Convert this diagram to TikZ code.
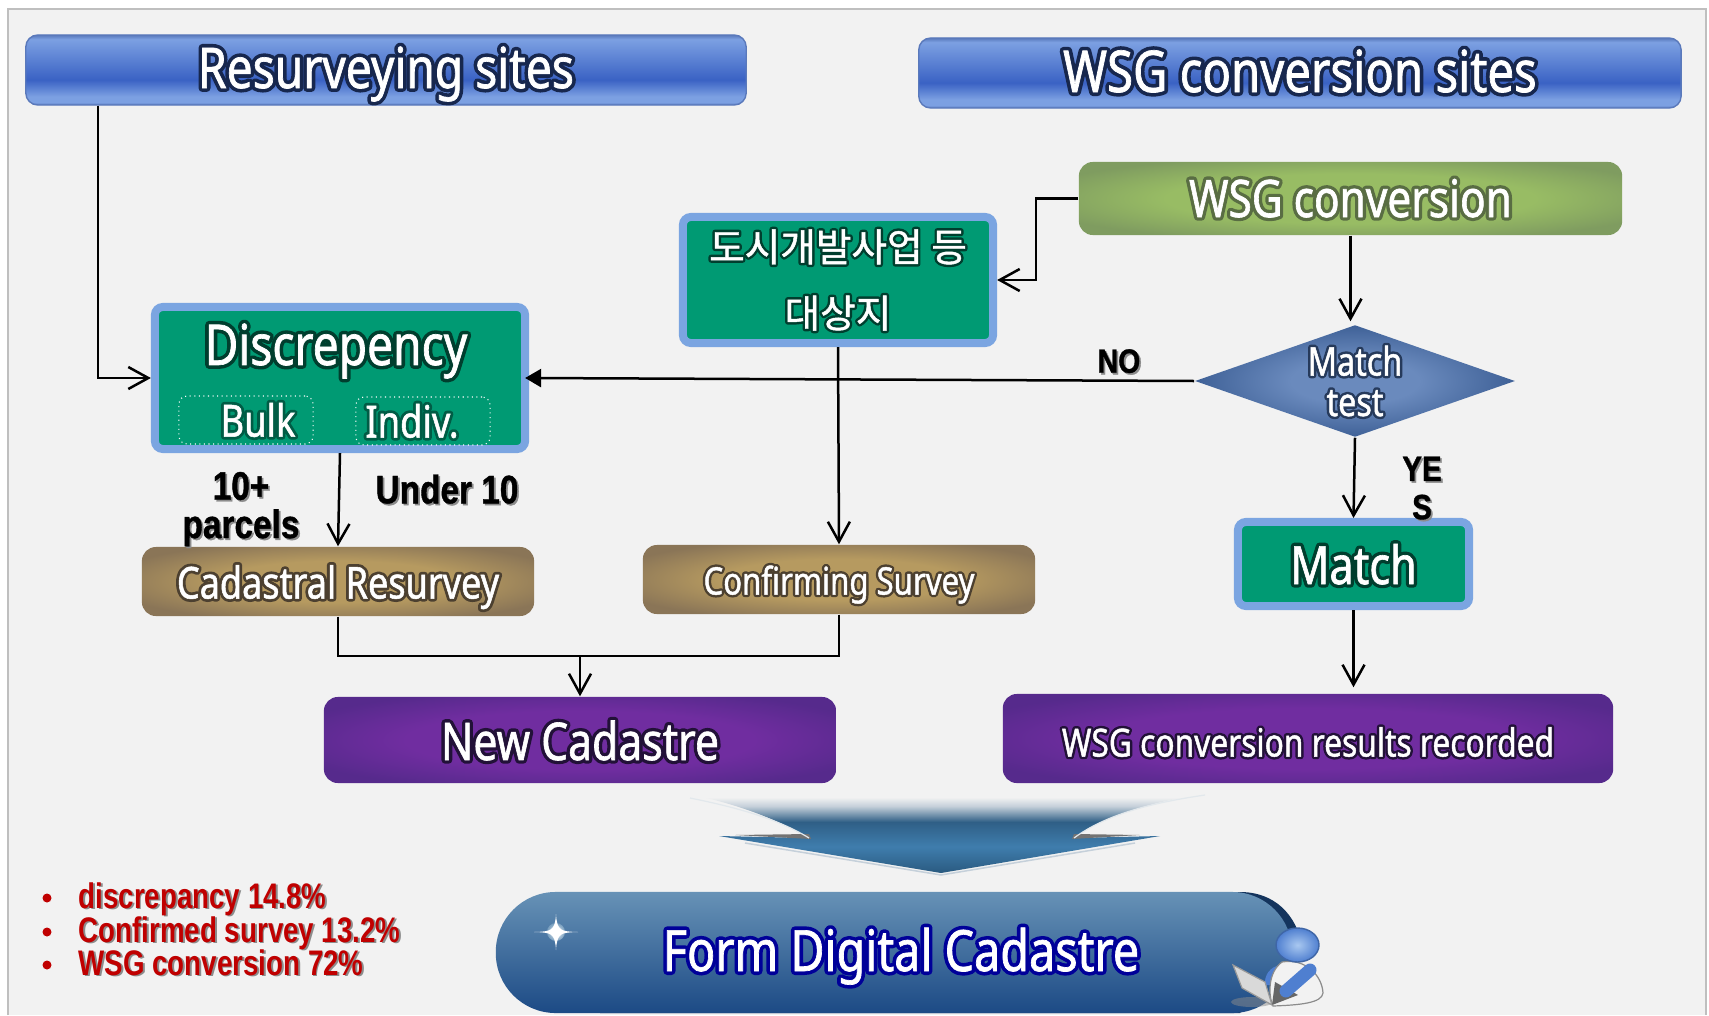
\documentclass[tikz,border=0pt]{standalone}
\usepackage{fontspec}
\usepackage{xcolor}
\usetikzlibrary{arrows.meta,shapes.geometric,positioning,calc}
\setmainfont{Noto Sans}
\newfontfamily\latfont[FakeStretch=0.82,FakeBold=1.2]{Noto Sans}
\newfontfamily\lathalo[FakeStretch=0.82,FakeBold=14]{Noto Sans}
\newfontfamily\krfont[FakeBold=1.2]{Noto Sans CJK KR}
\newfontfamily\krhalo[FakeBold=14]{Noto Sans CJK KR}
\newfontfamily\headfont[FakeStretch=0.84,FakeBold=1]{Liberation Sans Bold}
\newfontfamily\redfont[FakeStretch=0.78]{Liberation Sans Bold}
\definecolor{pagebg}{HTML}{F2F2F2}
\definecolor{frameline}{HTML}{BFBFBF}
\definecolor{boxgreen}{HTML}{009A73}
\definecolor{boxedge}{HTML}{7BA5E1}
\definecolor{redtxt}{HTML}{C00000}
\definecolor{HeadA}{HTML}{5A7CC0}
\definecolor{HeadB}{HTML}{7CA0E2}
\definecolor{HeadC}{HTML}{3A62C4}
\definecolor{HeadD}{HTML}{5A79BB}
\definecolor{ArrA}{HTML}{2A5A80}
\definecolor{ArrB}{HTML}{3F7DAD}
\definecolor{ArrC}{HTML}{2F5F86}
\definecolor{ArrD}{HTML}{C5D0DA}
\definecolor{GrnA}{HTML}{98BC64}
\definecolor{GrnB}{HTML}{7F9C60}
\definecolor{BrnA}{HTML}{B69A60}
\definecolor{BrnB}{HTML}{8A7557}
\definecolor{PurA}{HTML}{702DA0}
\definecolor{PurB}{HTML}{562A8C}
\definecolor{DiaA}{HTML}{6A8ABD}
\definecolor{DiaB}{HTML}{3F6197}
\definecolor{FrmA}{HTML}{6792B6}
\definecolor{FrmB}{HTML}{1C4A85}
\definecolor{HeadIn}{HTML}{A9C8F0}
\definecolor{HeadOut}{HTML}{4F7FD0}
\newcommand{\glowtxt}[2]{\leavevmode\special{pdf:code 1 j}\rlap{\color{#1}\lathalo #2}\special{pdf:code 0 j}#2}
\newcommand{\krglow}[2]{\leavevmode\special{pdf:code 1 j}\rlap{\color{#1}\krhalo #2}\special{pdf:code 0 j}#2}
\newcommand{\shadowtxt}[1]{\leavevmode\rlap{\kern.5pt\raisebox{-.5pt}{\color{black!45}#1}}#1}
\pgfdeclareverticalshading{headshade}{100bp}{color(0bp)=(HeadA);color(25bp)=(HeadA);
  color(27bp)=(HeadB);color(31bp)=(HeadB);color(43bp)=(HeadC);color(72bp)=(HeadB);color(75bp)=(HeadD);color(100bp)=(HeadD)}
\pgfdeclareverticalshading{arrowshade}{100bp}{color(0bp)=(ArrA);color(25bp)=(ArrA);color(40bp)=(ArrB);color(54bp)=(ArrC);
  color(63bp)=(ArrD);color(68bp)=(pagebg);color(100bp)=(pagebg)}
\pgfdeclareradialshading{greenshade}{\pgfpoint{0bp}{0bp}}{color(0bp)=(GrnA);color(17bp)=(GrnA);color(30bp)=(GrnB);color(50bp)=(GrnB)}
\pgfdeclareradialshading{brownshade}{\pgfpoint{0bp}{0bp}}{color(0bp)=(BrnA);color(15bp)=(BrnA);color(30bp)=(BrnB);color(50bp)=(BrnB)}
\pgfdeclareradialshading{purpleshade}{\pgfpoint{0bp}{0bp}}{color(0bp)=(PurA);color(17bp)=(PurA);color(30bp)=(PurB);color(50bp)=(PurB)}
\pgfdeclareradialshading{diamondshade}{\pgfpoint{0bp}{0bp}}{color(0bp)=(DiaA);color(10bp)=(DiaA);color(25bp)=(DiaB);color(50bp)=(DiaB)}

\begin{document}
\begin{tikzpicture}[x=0.01cm,y=-0.01cm,
    drop/.style={text height=#1*0.02cm, text depth=0pt},
    header/.style={rectangle, shading=headshade, rounded corners=0.12cm, minimum height=0.70cm, text=white, inner sep=0pt, font=\latfont\fontsize{16}{19}\selectfont},
    greenbox/.style={rectangle, draw=boxedge, fill=boxgreen, line width=0.08cm, rounded corners=0.08cm, text=white, inner sep=0pt},
    colorbox/.style={rectangle, rounded corners=0.14cm, text=white, inner sep=0pt, font=\latfont\fontsize{12.5}{16}\selectfont},
    subbox/.style={rectangle, draw=white, densely dotted, line width=0.3pt, rounded corners=0.08cm, minimum width=1.34cm, minimum height=0.48cm, inner sep=0pt, text=white, font=\latfont\fontsize{12.6}{15}\selectfont},
    testbox/.style={diamond, shading=diamondshade, aspect=2.86, minimum width=3.2cm, minimum height=1.12cm, inner sep=0pt, align=center, text=white, font=\latfont\fontsize{11.2}{11.5}\selectfont},
    blacktxt/.style={inner sep=0pt, align=center, font=\headfont\fontsize{11.3}{10.9}\selectfont},
    redlist/.style={inner sep=0pt, anchor=base west, text=redtxt, font=\redfont\fontsize{10.1}{12}\selectfont},
    arrow/.style={-{Straight Barb[length=0.2cm,width=0.22cm]}, line width=0.025cm},
    line/.style={line width=0.025cm}
]
    \useasboundingbox (0,0) rectangle (1709,1015);
    \fill[white] (0,0) rectangle (1709,1015);
    \fill[pagebg] (8,9) rectangle (1706,1015);
    \draw[frameline, line width=0.02cm] (8,1015) -- (8,9) -- (1706,9) -- (1706,1015);

    % headers
    \node[header, draw=HeadD, minimum width=7.20cm, drop=18] (resurvey) at (386,70) {\glowtxt{HeadC!40!black}{Resurveying sites}};
    \node[header, draw=HeadD, minimum width=7.62cm, drop=19, right=1.71cm of resurvey, yshift=-0.03cm, font=\latfont\fontsize{16.4}{19}\selectfont] (wsgsites) {\glowtxt{HeadC!40!black}{WSG conversion sites}};

    % right column
    \node[colorbox, shading=greenshade, minimum width=5.43cm, minimum height=0.73cm, drop=18.5, font=\latfont\fontsize{14.7}{18}\selectfont] (wsgconv) at (1350.5,198.5) {\glowtxt{GrnB!70!black}{WSG conversion}};
    \node[testbox] (matchtest) at (1355,381) {\glowtxt{DiaB!60!black}{Match}\\\glowtxt{DiaB!60!black}{test}};
    \node[greenbox, minimum width=2.31cm, minimum height=0.84cm, drop=20, font=\latfont\fontsize{15}{18}\selectfont] (match) at (1353.5,564) {\glowtxt{boxgreen!40!black}{Match}};
    \node[colorbox, shading=purpleshade, minimum width=6.10cm, minimum height=0.89cm, drop=18, font=\latfont\fontsize{11}{14}\selectfont] (results) at (1308,738.5) {\glowtxt{PurB!40!black}{WSG conversion results recorded}};

    % middle column
    \node[greenbox, align=center, minimum width=3.10cm, minimum height=1.26cm, font=\krfont\fontsize{11}{18.8}\selectfont] (urban) at (838,280) {\krglow{boxgreen!40!black}{도시개발사업 등}\\\krglow{boxgreen!40!black}{대상지}};
    \node[colorbox, shading=brownshade, minimum width=3.92cm, minimum height=0.69cm, drop=15, font=\latfont\fontsize{10.8}{14}\selectfont] (confirm) at (839,579.5) {\glowtxt{BrnB!55!black}{Confirming Survey}};
    \node[colorbox, shading=purpleshade, minimum width=5.12cm, minimum height=0.86cm, drop=20, font=\latfont\fontsize{14.8}{18}\selectfont] (newcad) at (580,740) {\glowtxt{PurB!40!black}{New Cadastre}};

    % left column
    \node[greenbox, minimum width=3.70cm, minimum height=1.42cm] (discrep) at (340,378) {};
    \node[inner sep=0pt, text=white, font=\latfont\fontsize{16}{19}\selectfont] (discreptxt) at (336,351) {\glowtxt{boxgreen!40!black}{Discrepency}};
    \node[subbox] (bulk) at (246,420) {\hspace*{0.24cm}\glowtxt{boxgreen!60!black}{Bulk}};
    \node[subbox] (indiv) at (423,421) {\glowtxt{boxgreen!60!black}{Indiv.}\hspace*{0.22cm}};
    \node[colorbox, shading=brownshade, minimum width=3.92cm, minimum height=0.69cm, drop=17] (cadres) at (338,581.5) {\glowtxt{BrnB!55!black}{Cadastral Resurvey}};

    % labels
    \node[blacktxt] (parcels) at (241,510) {\shadowtxt{10+}\\\shadowtxt{parcels}};
    \node[blacktxt] (underten) at (447,490) {\shadowtxt{Under 10}};
    \node[blacktxt, font=\headfont\fontsize{9.6}{10.9}\selectfont] (nolabel) at (1119,362) {\shadowtxt{NO}};
    \node[blacktxt, font=\headfont\fontsize{10}{10.9}\selectfont] (yeslabel) at (1422,489) {\shadowtxt{YE}\\\shadowtxt{S}};

    % connectors
    \coordinate (merge) at (580,656);
    \draw[arrow] (resurvey.south -| 98,0) |- (discrep.west);
    \draw[arrow] (wsgconv.west) -- ++(-42,0) |- (urban.east);
    \draw[arrow, shorten >=0.03cm] (wsgconv.south) -- (wsgconv.south |- matchtest.north);
    \draw[-{Triangle[length=0.16cm,width=0.18cm]}, line width=0.025cm, shorten >=-0.04cm] (matchtest.west) -- (discrep.east);
    \draw[arrow] (matchtest.south) -- (match.north);
    \draw[arrow, shorten >=0.06cm] (match.south) -- (match.south |- results.north);
    \draw[arrow] (discrep.south) -- (cadres.north);
    \draw[arrow] (urban.south) -- (confirm.north);
    \draw[line] (cadres.south) |- (merge);
    \draw[line] (confirm.south) |- (merge);
    \draw[arrow] (merge) -- (newcad.north);

    % big arrow
    \shade[shading=arrowshade] (640,785) .. controls (720,797) and (770,815) .. (809,838) -- (719,836) -- (941,873) -- (1160,836) -- (1074,838) .. controls (1110,810) and (1180,795) .. (1262,785) -- cycle;
    \fill[black!55] (735,835) -- (809,834) -- (811,839) -- cycle;
    \fill[black!55] (1072,839) -- (1074,834) -- (1140,835) -- cycle;
    \draw[ArrD, line width=0.015cm] (745,843) -- (941,875) -- (1135,843);
    \draw[ArrD!50!white, line width=0.012cm] (690,798) .. controls (740,808) and (780,820) .. (809,838);
    \draw[ArrD!50!white, line width=0.012cm] (1074,838) .. controls (1105,815) and (1150,803) .. (1205,795);

    % digital cadastre bar
    \fill[FrmB!70!black] (600,892) -- (1240,892) .. controls (1275,892) and (1296,915) .. (1302,945) -- (1240,1013) -- (600,1013) -- cycle;
    \node[rectangle, rounded corners=0.6cm, top color=FrmA, bottom color=FrmB, minimum width=7.96cm, minimum height=1.21cm, drop=18.5, inner sep=0pt, text=white, font=\latfont\fontsize{16.2}{20}\selectfont] (formdc) at (894,952.5) {\hspace*{0.14cm}\glowtxt{blue!60!black}{Form Digital Cadastre}};

    % sparkle
    \shade[inner color=white, outer color=FrmA!90!white] (556,932) circle (9);
    \fill[white] (534,932) .. controls (551,931.5) and (555,931) .. (556,914) .. controls (557,931) and (561,931.5) .. (578,932) .. controls (561,932.5) and (557,933) .. (556,950) .. controls (555,933) and (551,932.5) .. (534,932) -- cycle;

    % person
    \fill[black!45, opacity=.5] (1252,1002) ellipse (21 and 5);
    \path[fill=HeadOut] (1265,985) .. controls (1264,975) and (1270,967) .. (1280,965) -- (1282,985) -- cycle;
    \path[fill=black!5, draw=black!45, line width=0.012cm] (1282,962) .. controls (1305,958) and (1322,975) .. (1323,993) .. controls (1322,1003) and (1300,1005) .. (1273,1006) .. controls (1268,995) and (1268,972) .. (1282,962) -- cycle;
    \path[fill=black!60] (1272,1005) -- (1298,995) -- (1275,982) -- cycle;
    \draw[HeadOut, line width=0.13cm, line cap=round] (1310,970) -- (1286,991);
    \path[fill=black!15, draw=black!40, line width=0.012cm] (1233,965) -- (1265,982) -- (1272,1005) -- (1242,988) -- cycle;
    \shade[inner color=HeadIn, outer color=HeadOut, draw=HeadOut!80!black] (1297.5,945) ellipse (21.5 and 17);

    % figures
    \foreach \yy/\txt in {898/discrepancy 14.8\%,932/Confirmed survey 13.2\%,965/WSG conversion 72\%}{
        \fill[redtxt] (47,\yy) circle (4.5);
        \node[redlist] at (78,\yy+10) {\shadowtxt{\txt}};
    }
\end{tikzpicture}
\end{document}
